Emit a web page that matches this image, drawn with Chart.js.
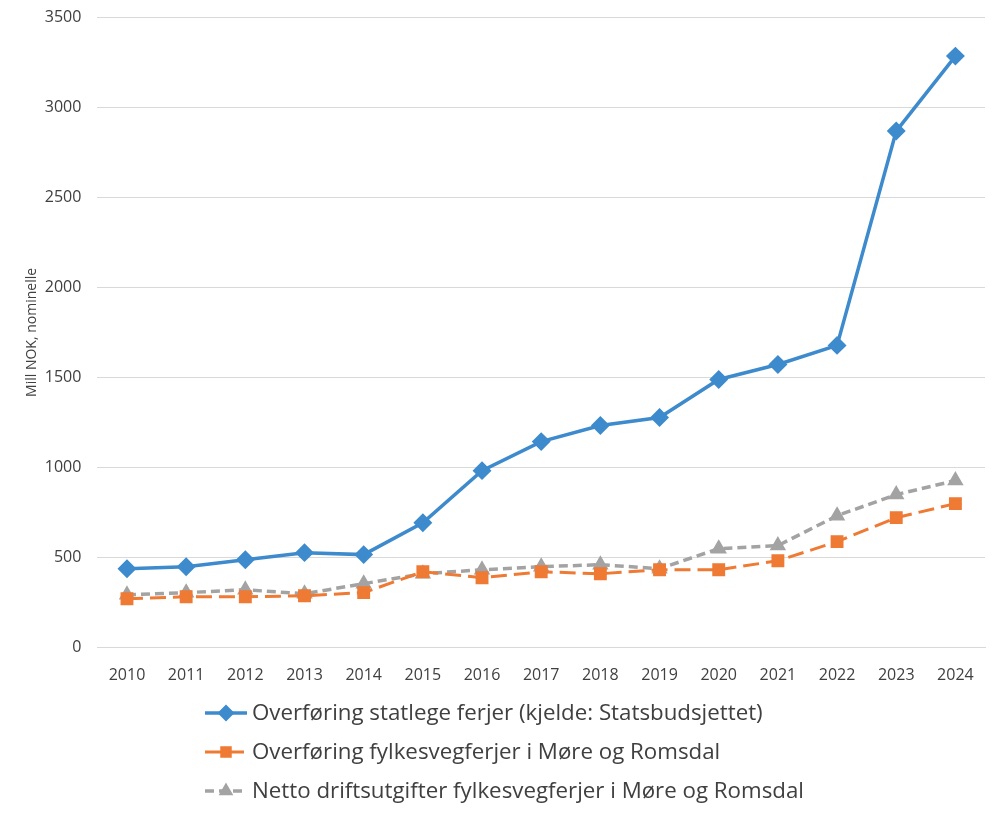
<!DOCTYPE html>
<html>
<head>
<meta charset="utf-8">
<script src="https://cdn.jsdelivr.net/npm/chart.js@4"></script>
<style>
  html, body { margin: 0; padding: 0; background: #fff; }
  #wrap { width: 1000px; height: 814px; }
</style>
</head>
<body>
<div id="wrap"><canvas id="myChart"></canvas></div>
<script>
const years = ['2010','2011','2012','2013','2014','2015','2016','2017','2018','2019','2020','2021','2022','2023','2024'];
const statlege = [439, 450, 489, 528, 517, 694, 983, 1144, 1233, 1278, 1489, 1572, 1678, 2867, 3283];
const fylkesveg = [272, 283, 283, 289, 306, 422, 389, 422, 411, 433, 433, 483, 589, 722, 800];
const netto = [294, 306, 322, 300, 356, 411, 433, 450, 461, 439, 550, 567, 733, 850, 928];
const seriesNames = [
    'Overføring statlege ferjer (kjelde: Statsbudsjettet)',
    'Overføring fylkesvegferjer i Møre og Romsdal',
    'Netto driftsutgifter fylkesvegferjer i Møre og Romsdal'
];

const font = "'Open Sans', 'Noto Sans', sans-serif";

// legend drawn as a vertical list under the plot
const legendList = {
    id: 'legendList',
    afterDraw(chart) {
        const c = chart.ctx;
        chart.data.datasets.forEach((ds, i) => {
            const y = 713 + i * 39;
            const x = 205;
            c.save();
            c.strokeStyle = ds.borderColor;
            c.lineWidth = ds.borderWidth;
            c.setLineDash(ds.borderDash || []);
            c.beginPath();
            c.moveTo(x, y);
            c.lineTo(x + 42, y);
            c.stroke();
            c.setLineDash([]);
            c.fillStyle = ds.backgroundColor;
            c.strokeStyle = ds.borderColor;
            Chart.helpers.drawPoint(c, {
                pointStyle: ds.pointStyle,
                radius: ds.pointRadius - 1,
                borderWidth: 1
            }, x + 21, y);
            c.fillStyle = '#404040';
            c.font = "22.3px " + font;
            c.textBaseline = 'middle';
            c.fillText(ds.label, x + 47, y + 1);
            c.restore();
        });
    }
};

const ctx = document.getElementById('myChart').getContext('2d');
new Chart(ctx, {
    type: 'line',
    data: {
        labels: years,
        datasets: [
            {
                label: seriesNames[0],
                data: statlege,
                borderColor: '#3d8bcd',
                backgroundColor: '#3d8bcd',
                borderWidth: 3.5,
                pointStyle: 'rectRot',
                pointRadius: 7,
                fill: false,
                tension: 0
            },
            {
                label: seriesNames[1],
                data: fylkesveg,
                borderColor: '#ee7a34',
                backgroundColor: '#ee7a34',
                borderWidth: 3,
                borderDash: [16, 7],
                pointStyle: 'rect',
                pointRadius: 7,
                fill: false,
                tension: 0
            },
            {
                label: seriesNames[2],
                data: netto,
                borderColor: '#a3a3a3',
                backgroundColor: '#a3a3a3',
                borderWidth: 3.5,
                borderDash: [9, 5],
                pointStyle: 'triangle',
                pointRadius: 6,
                fill: false,
                tension: 0
            }
        ]
    },
    options: {
        responsive: true,
        maintainAspectRatio: false,
        animation: false,
        layout: { padding: { left: 24, right: 15, top: 0, bottom: 119 } },
        plugins: {
            legend: { display: false },
            tooltip: { enabled: false }
        },
        scales: {
            x: {
                offset: true,
                grid: { display: false },
                border: { color: '#d9d9d9', width: 1 },
                ticks: { color: '#404040', font: { family: font, size: 16 }, padding: 10 }
            },
            y: {
                min: 0,
                max: 3500,
                afterFit: s => { s.width -= 12; s.paddingTop = 17; },
                ticks: {
                    stepSize: 500,
                    color: '#404040',
                    font: { family: font, size: 16 },
                    padding: 16,
                    callback: v => String(v)
                },
                grid: { color: '#d9d9d9', drawTicks: false },
                border: { display: false },
                title: {
                    display: true,
                    text: 'Mill NOK, nominelle',
                    color: '#404040',
                    font: { family: font, size: 14 },
                    padding: { top: 0, bottom: 0 }
                }
            }
        }
    },
    plugins: [legendList]
});
</script>
</body>
</html>
